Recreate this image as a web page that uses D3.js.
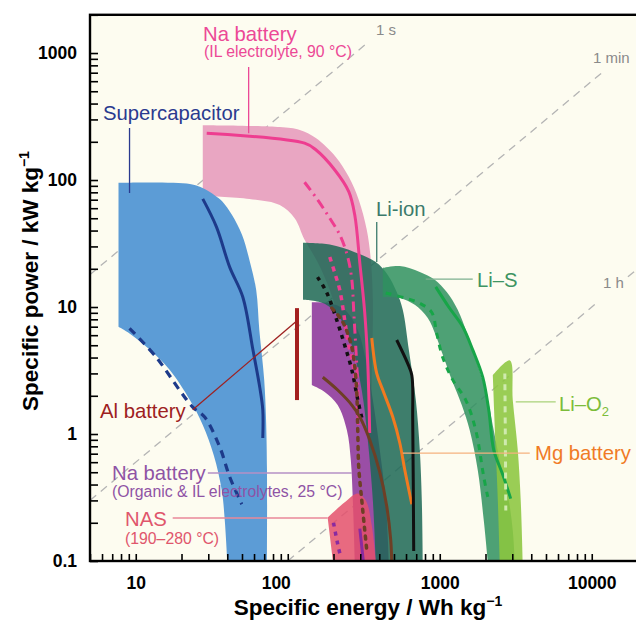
<!DOCTYPE html>
<html><head><meta charset="utf-8">
<script src="https://cdn.jsdelivr.net/npm/d3@7"></script>
<style>body{margin:0;background:#fff;} svg{display:block;font-family:"Liberation Sans",Arial,Helvetica,sans-serif;}</style>
</head><body><svg id="c" width="636" height="621"></svg>
<script>
// ---------- data: [specific energy (Wh/kg), specific power (kW/kg)] ----------
const energyTickLabels = [10, 100, 1000, 10000];
const powerTickLabels = [0.1, 1, 10, 100, 1000];

const superOuter = [[7.7,95],[22.7,93],[28.4,85],[33,76],[37,68],[43,53],[50,37],[56,23.4],[62,13.6],[65,6.6],[70,2.66],[72,1.29],[73,0.52],[73,0.1]];
const superInner = [[40,0.1],[38.5,0.21],[36.8,0.36],[32.6,0.68],[27.6,1.18],[22.7,1.85],[16.7,3.2],[12.4,4.6],[9.1,6.2],[7.7,7.0]];
const superSolid = [[27.6,71],[34,42.6],[41.5,20.6],[50.6,12],[59,4.6],[65.4,2.34],[68.5,1.55],[68.5,0.93]];
const superDashed = [[9.1,6.8],[13.7,4.0],[19.5,2.2],[23.7,1.63],[28.4,1.36],[35.7,0.79],[41.5,0.46],[49.8,0.28]];

const naILOuter = [[27.6,270],[88.6,261],[120,248],[153,214],[207,152],[252,106],[293,70],[331,40.5],[352,23.5],[363,11.4],[357,2.67],[352,0.95]];
const naILInner = [[276,0.95],[256,2.67],[226,6.6],[189,13.6],[157,22.6],[129,33.8],[111,50],[88.6,63.5],[56,71],[27.6,75]];
const naILSolid = [[29.3,234],[129,195],[153,173],[204,120],[252,81],[276,53],[298,22.2],[321,9.0],[336,3.6],[346,1.02]];
const naILDashDot = [[129,96],[157,70],[189,50],[220,37],[248,24.8],[264,16.4],[272,9.0],[284,3.6],[293,1.55]];
const naILDotted = [[189,24.8],[204,18.5],[220,13.6],[237,7.9],[248,5.5],[268,3.6],[284,2.2],[293,1.18]];

const naOrgOuter = [[144,10.9],[189,10.7],[237,9.5],[289,6.6],[326,3.84],[363,1.85],[403,0.75],[441,0.3],[462,0.1]];
const naOrgInner = [[276,0.1],[268,0.3],[260,0.62],[245,1.07],[213,1.69],[175,2.14],[144,2.43]];

const liIonOuter = [[126,32],[189,31],[276,27],[379,22.6],[455,17.9],[521,13.1],[571,9.5],[626,4.6],[696,1.85],[739,0.75],[762,0.3],[773,0.1]];
const liIonInner = [[379,0.1],[363,0.3],[336,0.9],[307,2.2],[264,5.0],[220,8.2],[175,10.6],[126,11.4]];

const liSOuter = [[422,20.3],[546,21],[739,18.9],[927,16.4],[1112,13.1],[1313,9.5],[1527,6.0],[1778,3.5],[2037,2.03],[2265,1.07],[2556,0.52],[2844,0.3],[3022,0.175],[3115,0.1]];
const liSInner = [[2069,0.1],[1947,0.21],[1778,0.52],[1575,1.07],[1396,1.69],[1199,2.67],[1047,4.2],[941,6.0],[834,8.2],[685,10.4],[546,11.8],[422,12]];
const liSSolid = [[941,14.4],[1146,10],[1416,7.0],[1648,4.6],[1918,2.8],[2100,1.55],[2265,0.75],[2596,0.48],[2929,0.31]];
const liSDashed = [[441,12.9],[589,11.8],[739,10.7],[885,9.1],[955,6.2],[1047,4.0],[1218,2.67],[1483,1.85],[1726,1.07],[1947,0.46],[2069,0.32]];

const liO2Outer = [[2234,2.9],[2890,3.8],[3022,1.85],[3259,0.75],[3410,0.3],[3514,0.1]];
const liO2Inner = [[2481,0.1],[2410,0.3],[2336,0.75],[2265,1.85]];
const liO2Line = [[2680,3.0],[2700,1.0],[2720,0.25]];

const nasOuter = [[183,0.22],[237,0.29],[289,0.34],[326,0.3],[357,0.19],[379,0.1]];
const nasInner = [[198,0.1]];

const mgLine = [[357,5.7],[385,3.0],[422,2.22],[491,1.36],[546,0.85],[589,0.52],[655,0.28]];
const blackSolid = [[521,5.5],[615,3.6],[655,2.9],[664,1.29],[674,0.12]];
const blackDotted = [[157,17.2],[181,12.9],[213,7.5],[237,5.0],[264,3.2],[289,1.85],[307,1.34]];
const brownSolid = [[170,2.8],[213,2.22],[264,1.69],[298,1.36],[346,0.9],[403,0.5],[448,0.27],[476,0.146],[483,0.1]];
const brownDotted = [[195,9.8],[226,7.9],[248,6.2],[264,4.8],[276,3.4],[284,2.22],[289,1.02],[293,0.55],[307,0.3],[321,0.175],[331,0.122]];
const purpleDotted = [[200,0.2],[212,0.14],[220,0.115]];
const purpleShort = [[298,0.18],[314,0.1]];
const alBar = [[115,9.8],[115,1.85]];

// discharge-time reference lines (seconds) and the energy spans drawn
const timeLineSeconds = [1, 60, 3600, 3600];
const timeLineEnergySpan = [[5,340],[5,11800],[100,11100],[17300,20000]];

// leader lines (data coordinates)
const leaderSuper = [[9.1,257],[9.1,79]];
const leaderNaIL = [[55.3,776],[55.3,234]];
const leaderLiIon = [[385,46.7],[385,22.6]];
const leaderLiS = [[809,16.6],[1648,16.6]];
const leaderLiO2 = [[3162,1.79],[5794,1.79]];
const leaderMg = [[571,0.708],[3910,0.708]];
const leaderNaOrg = [[29.8,0.493],[264,0.493]];
const leaderNAS = [[17.5,0.218],[183,0.218]];
const leaderAl = [[115,7.8],[23.7,1.55]];

// ---------- drawing ----------
const svg = d3.select("#c");
const x = d3.scaleLog().domain([5, 20000]).range([90, 637.5]);
const y = d3.scaleLog().domain([0.1, 2000]).range([561, 14.8]);

const curve = d3.line().x(d => x(d[0])).y(d => y(d[1])).curve(d3.curveCatmullRom.alpha(0.5));
const straight = d3.line().x(d => x(d[0])).y(d => y(d[1]));
function seg(pts){ return pts.length < 3 ? pts.map(p => "L" + x(p[0]) + "," + y(p[1])).join("") : "L" + curve(pts).slice(1); }
function region(outer, inner){ return curve(outer) + seg(inner) + "Z"; }

svg.append("rect").attr("width", 636).attr("height", 621).attr("fill", "#fff");
svg.append("defs").append("clipPath").attr("id", "clip").append("rect")
  .attr("x", 90).attr("y", y(2000)).attr("width", 548).attr("height", 561 - y(2000));
svg.append("rect").attr("x", 90).attr("y", y(2000)).attr("width", 548).attr("height", 561 - y(2000)).attr("fill", "#fdfcf0");

const plot = svg.append("g").attr("clip-path", "url(#clip)");

// time lines
timeLineSeconds.forEach((s, i) => {
  const pts = timeLineEnergySpan[i].map(e => [e, 3.6 * e / s]);
  plot.append("path").attr("d", straight(pts)).attr("fill", "none")
    .attr("stroke", "#b4b4b4").attr("stroke-width", 1.3).attr("stroke-dasharray", "8,6");
});

function fillRegion(outer, inner, color, op){
  plot.append("path").attr("d", region(outer, inner)).attr("fill", color).attr("fill-opacity", op);
}
fillRegion(naILOuter, naILInner, "#e9a6c2", 1);
fillRegion(superOuter, superInner, "#5c9cd6", 1);
fillRegion(naOrgOuter, naOrgInner, "#9a4ea6", 1);
fillRegion(liIonOuter, liIonInner, "#1c6755", 0.85);
fillRegion(liSOuter, liSInner, "#2f915f", 0.85);
fillRegion(liO2Outer, liO2Inner, "#8cc63f", 0.88);
fillRegion(nasOuter, nasInner, "#e4506c", 0.85);

function line(pts, color, w, dash, cap){
  plot.append("path").attr("d", curve(pts)).attr("fill", "none").attr("stroke", color)
    .attr("stroke-width", w).attr("stroke-dasharray", dash || null)
    .attr("stroke-linecap", cap || "butt").attr("stroke-linejoin", "round");
}
line(superSolid, "#1d3a8a", 3);
line(superDashed, "#1d3a8a", 3.2, "8,6");
line(naILSolid, "#ee3d90", 3);
line(naILDashDot, "#ee3d90", 3, "10,5,2,5");
line(naILDotted, "#ee3d90", 3.5, "5,5");
line(liSSolid, "#17a548", 3);
line(liSDashed, "#17a548", 3, "6,6");
line(liO2Line, "#cfeaae", 3, "6,5");
line(mgLine, "#f27a1f", 3);
line(blackSolid, "#111", 3);
line(blackDotted, "#111", 3.5, "4,5");
line(brownSolid, "#6e3f25", 3);
line(brownDotted, "#6e3f25", 3.5, "3,6", "round");
line(purpleDotted, "#8a2aa0", 3.5, "4,5");
line(purpleShort, "#8a2aa0", 3);
plot.append("path").attr("d", straight(alBar)).attr("stroke", "#a3201f").attr("stroke-width", 4).attr("fill", "none");

// leaders
[[leaderSuper, "#2a3a8f"], [leaderNaIL, "#ec4896"], [leaderLiIon, "#3b7a6b"], [leaderLiS, "#7db08f"],
 [leaderLiO2, "#a9d27a"], [leaderMg, "#f5b27f"], [leaderNaOrg, "#b590c6"], [leaderNAS, "#e8899a"], [leaderAl, "#9e2121"]]
.forEach(([pts, c]) => plot.append("path").attr("d", straight(pts)).attr("stroke", c).attr("stroke-width", 1.3).attr("fill", "none"));

// labels
const labels = [
  {t:"Na battery", x:203, y:41, s:20.3, c:"#ec4896"},
  {t:"(IL electrolyte, 90 °C)", x:204, y:57, s:15.8, c:"#ec4896"},
  {t:"Supercapacitor", x:103, y:120, s:20.3, c:"#2a3a8f"},
  {t:"Li-ion", x:376, y:216, s:20.3, c:"#3b7a6b"},
  {t:"Li–S", x:477, y:287, s:20.3, c:"#3e9462"},
  {t:"Mg battery", x:535, y:460, s:20.3, c:"#f07a25"},
  {t:"Al battery", x:100, y:418, s:20.3, c:"#9e2121"},
  {t:"Na battery", x:112, y:480, s:20.3, c:"#8f53a5"},
  {t:"(Organic & IL electrolytes, 25 °C)", x:112, y:497, s:15.8, c:"#8f53a5"},
  {t:"NAS", x:125, y:526, s:20.3, c:"#e0566c"},
  {t:"(190–280 °C)", x:125, y:544, s:15.8, c:"#e0566c"},
  {t:"1 s", x:376, y:35, s:15, c:"#8a8a8a"},
  {t:"1 min", x:593, y:63, s:15, c:"#8a8a8a"},
  {t:"1 h", x:603, y:288, s:15, c:"#8a8a8a"}
];
labels.forEach(l => svg.append("text").attr("x", l.x).attr("y", l.y).attr("font-size", l.s).attr("fill", l.c).text(l.t));
const o2 = svg.append("text").attr("x", 559).attr("y", 411).attr("font-size", 20.3).attr("fill", "#7cbc3a").text("Li–O");
o2.append("tspan").attr("font-size", 13).attr("dy", 5).text("2");

// axes
const yAxis = d3.axisLeft(y).tickValues(y.ticks()).tickSizeInner(-8).tickSizeOuter(0).tickPadding(13)
  .tickFormat(d => powerTickLabels.includes(+d.toPrecision(6)) ? String(+d.toPrecision(6)) : "");
const xAxis = d3.axisBottom(x).tickValues(x.ticks()).tickSizeInner(-7).tickSizeOuter(0).tickPadding(16)
  .tickFormat(d => energyTickLabels.includes(+d.toPrecision(6)) ? String(+d.toPrecision(6)) : "");
const gy = svg.append("g").attr("transform", "translate(90,0)").call(yAxis);
const gx = svg.append("g").attr("transform", "translate(0,561)").call(xAxis);
[gy, gx].forEach(g => {
  g.selectAll("text").attr("font-size", 17.5).attr("font-weight", "bold").attr("fill", "#000")
    .attr("font-family", '"Liberation Sans",Arial,sans-serif');
  g.selectAll(".tick line").attr("stroke", "#000").attr("stroke-width", 1.6);
  g.select(".domain").attr("stroke", "none");
});
gx.selectAll("text").filter(d => Math.abs(d - 100) < 1e-6).attr("dx", -12);

svg.append("rect").attr("x", 90).attr("y", y(2000)).attr("width", 560).attr("height", 561 - y(2000))
  .attr("fill", "none").attr("stroke", "#000").attr("stroke-width", 2.4);

// axis titles
const xt = svg.append("text").attr("x", 368).attr("y", 615).attr("text-anchor", "middle")
  .attr("font-size", 22.5).attr("font-weight", "bold").text("Specific energy / Wh kg");
xt.append("tspan").attr("dy", -9).attr("font-size", 14).text("−1");
const yt = svg.append("text").attr("transform", "translate(38,281) rotate(-90)").attr("text-anchor", "middle")
  .attr("font-size", 22.5).attr("font-weight", "bold").text("Specific power / kW kg");
yt.append("tspan").attr("dy", -9).attr("font-size", 14).text("−1");
</script></body></html>
